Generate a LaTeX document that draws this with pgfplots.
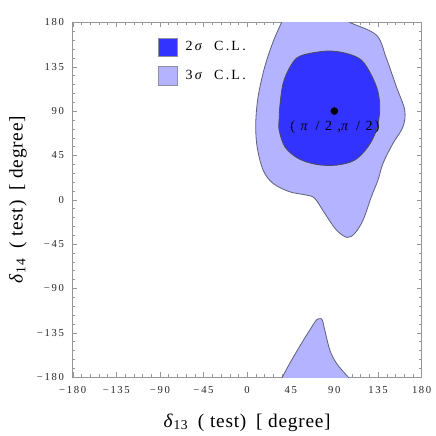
\documentclass[border=0pt]{standalone}
\usepackage{pgfplots}
\pgfplotsset{compat=1.18}
\usepackage{fontspec}
\setmainfont{Liberation Serif}
\newfontfamily\spaced[LetterSpace=15]{Liberation Serif}
\newfontfamily\labfont[LetterSpace=4]{Liberation Serif}

\definecolor{cltwo}{RGB}{51,51,255}
\definecolor{clthree}{RGB}{179,179,255}
\definecolor{edge}{RGB}{95,95,120}
\definecolor{framegray}{RGB}{150,150,150}

\begin{document}
\begin{tikzpicture}
\useasboundingbox (-54.5pt,-44.25pt) rectangle (272.5pt,282.8pt);
\begin{axis}[
  scale only axis,
  width=261.75pt, height=266pt,
  xmin=-180, xmax=180, ymin=-180, ymax=180,
  xtick={-180,-135,...,180},
  ytick={-180,-135,...,180},
  xticklabels={−\,180,−\,135,−\,90,−\,45,0,45,90,135,180},
  yticklabels={−\,180,−\,135,−\,90,−\,45,0,45,90,135,180},
  minor tick num=4,
  tick align=inside,
  tick pos=both,
  major tick length=3.5pt,
  minor tick length=2pt,
  axis line style={framegray},
  tick style={framegray},
  tick label style={font=\spaced\fontsize{8}{9}\selectfont, text=black!85},
  xticklabel style={yshift=-3.5pt},
  yticklabel style={xshift=-3pt},
  xlabel={\textit{δ}\textsubscript{13}\enspace( test)\enspace[ degree]},
  ylabel={\textit{δ}\textsubscript{14}\enspace( test)\enspace[ degree]},
  label style={font=\labfont\fontsize{14.5}{17}\selectfont},
  xlabel style={at={(axis description cs:0.5,-0.128)}, anchor=center},
  ylabel style={at={(axis description cs:-0.157,0.5)}, anchor=center},
  legend style={draw=none, fill=none, at={(axis description cs:0.245,0.958)},
    anchor=north west, inner sep=0pt, row sep=7pt,
    font=\spaced\fontsize{10.5}{12}\selectfont, nodes={inner sep=1pt}},
  legend cell align=left,
  legend image code/.code={\draw[#1] (0pt,-7pt) rectangle (14pt,7pt);},
  /tikz/every odd column/.append style={column sep=5pt},
]
\addlegendimage{fill=cltwo, draw=edge!70}
\addlegendentry{2\,\textit{σ}\hspace{0.7em}C\,.L\,.}
\addlegendimage{fill=clthree, draw=edge!70}
\addlegendentry{3\,\textit{σ}\hspace{0.7em}C\,.L\,.}

% 3 sigma, upper region
\addplot[fill=clthree, draw=edge, line width=0.6pt, smooth, tension=0.55, forget plot]
  coordinates {(39,188) (35.5,180) (26.8,160.3) (18.2,135) (11.3,104.5) (8.9,77.5)
  (10.3,53.7) (16.5,30) (26.8,16.5) (44,8) (61.2,4.7) (69.8,1.3) (80.1,-13.9)
  (92.2,-30.9) (103.1,-38.3) (111,-34.2) (119.6,-20.7) (128.2,3) (135,19.9)
  (140.2,36.9) (150.5,57.2) (160.8,74) (162.6,91) (154,114.6) (143.7,143.5)
  (133.4,167.1) (105.9,180) (96,186)} -- cycle;

% 3 sigma, lower lobe
\addplot[fill=clthree, draw=edge, line width=0.6pt, smooth, tension=0.55, forget plot]
  coordinates {(32,-190) (36.5,-180) (44,-166.1) (56.1,-145.8) (64.7,-132.2)
  (71.5,-122.1) (75,-120.8) (77.5,-122) (80.1,-132.2) (85.3,-152.5)
  (92.2,-166.1) (104.2,-180) (110,-186)} -- cycle;

% 2 sigma
\addplot[fill=cltwo, draw=edge!80!black, line width=0.6pt, smooth, tension=0.55, forget plot]
  coordinates {(33,80) (33.7,94.3) (37.1,118.1) (45,136) (55,146) (81.9,150.9)
  (102.5,148.5) (117.9,141.7) (128.2,126.5) (135,109.5) (136.8,91) (133.4,70.7)
  (124.7,53.7) (111,40.2) (92.2,35.1) (71.5,35.8) (52.6,41.9) (38.9,53.7)
  (33,70.7) (33,80)} -- cycle;

% best fit point
\addplot[only marks, mark=*, mark size=2.6pt, black, forget plot] coordinates {(90,90)};
\node[font=\spaced\fontsize{10.5}{12}\selectfont] at (axis cs:90.5,74) {( \textit{π} / 2 ,\textit{π} / 2)};
\end{axis}
\end{tikzpicture}
\end{document}
